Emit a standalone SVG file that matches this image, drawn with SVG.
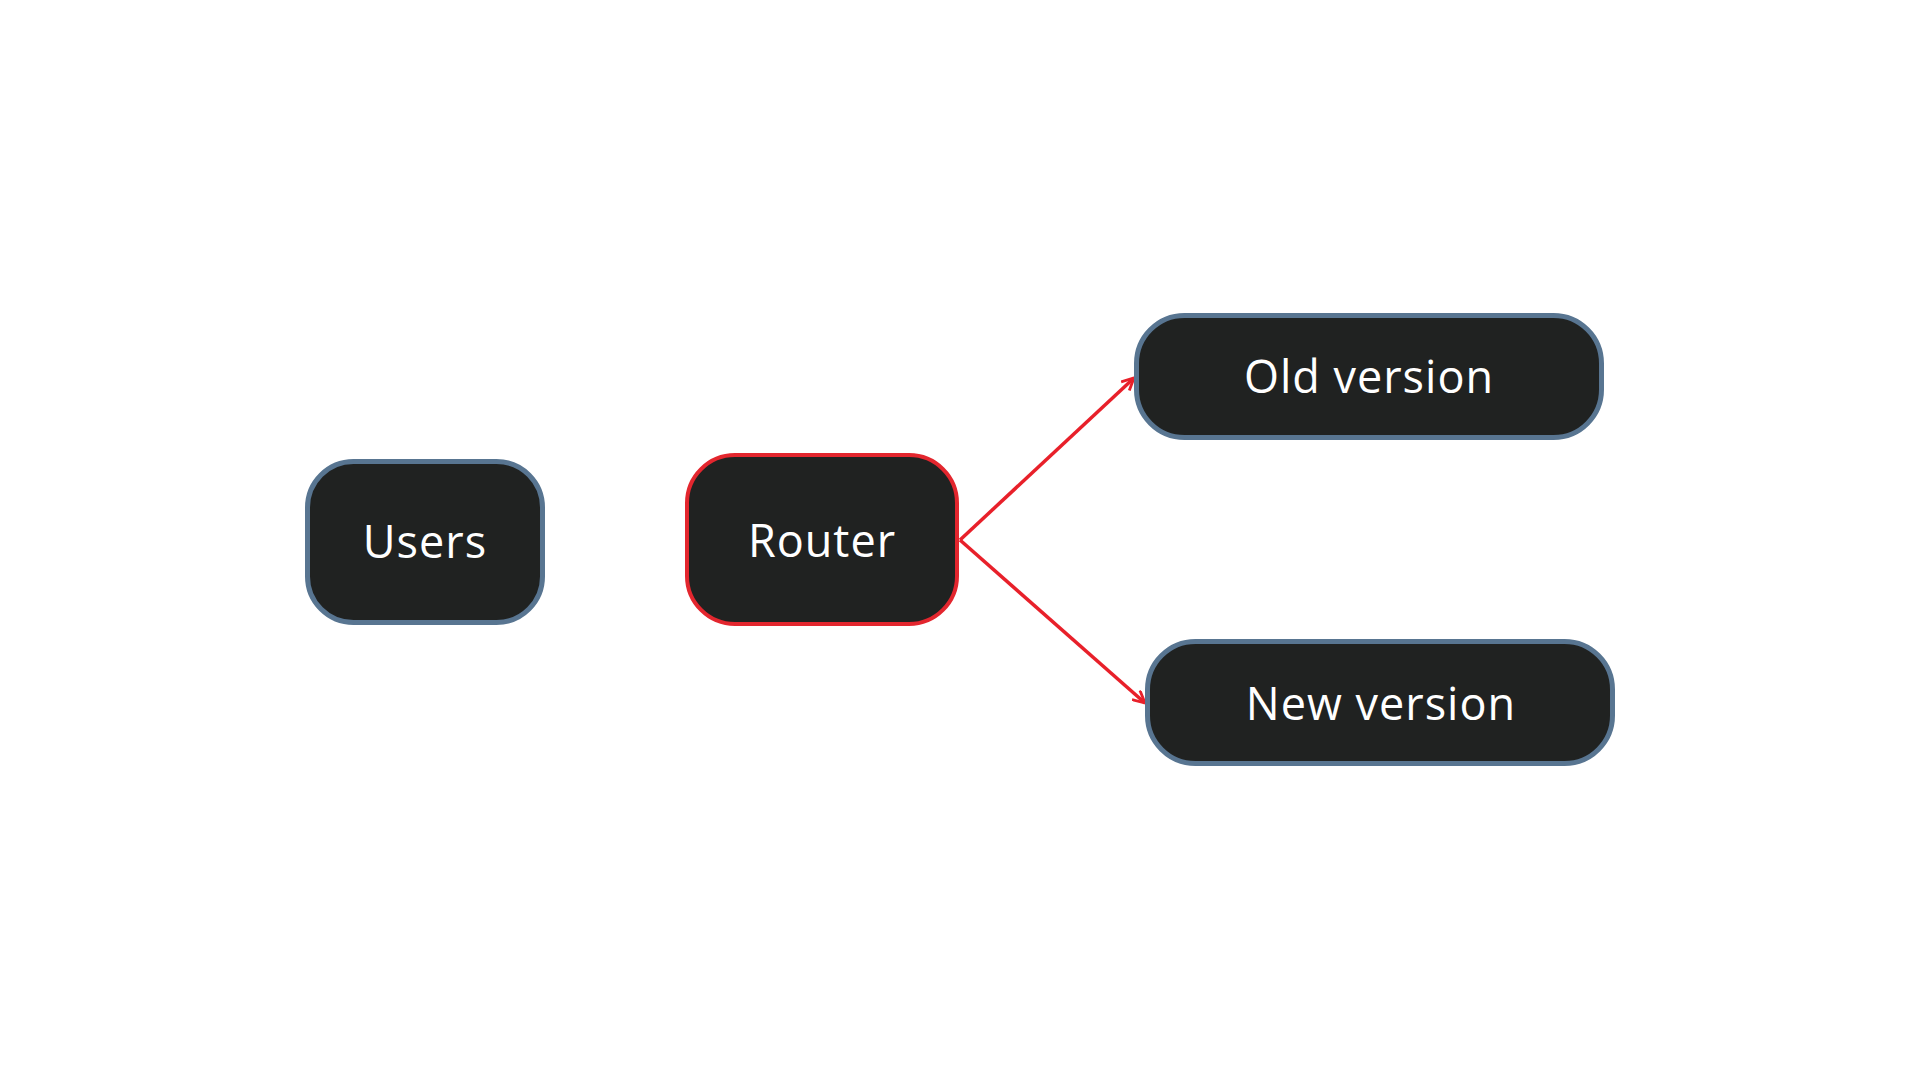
<svg xmlns="http://www.w3.org/2000/svg" width="1920" height="1080" viewBox="0 0 1920 1080">
<style>
.box{fill:#202221;stroke:#587591;stroke-width:5}
.red{stroke:#e3262e;stroke-width:4}
.lbl{font-family:"Open Sans","Liberation Sans",sans-serif;font-size:45px;fill:#ffffff;text-anchor:middle;letter-spacing:1px}
.conn{fill:none;stroke:#e8202a;stroke-width:3.5}
</style>
<defs>
<marker id="arr" viewBox="0 0 14 14" refX="13" refY="7" markerWidth="14" markerHeight="14" markerUnits="userSpaceOnUse" orient="auto">
<path d="M1,1 L13,7 L1,13" fill="none" stroke="#e8202a" stroke-width="2.8"/>
</marker>
</defs>
<rect width="1920" height="1080" fill="#ffffff"/>
<g id="connectors">
<path class="conn" d="M960,540 L1134,378" marker-end="url(#arr)"/>
<path class="conn" d="M960,540 L1145,703" marker-end="url(#arr)"/>
</g>
<g id="users">
<rect class="box" x="307.5" y="461.5" width="235" height="161" rx="46"/>
<text class="lbl" x="425" y="558">Users</text>
</g>
<g id="router">
<rect class="box red" x="687" y="455" width="270" height="169" rx="48"/>
<text class="lbl" x="822" y="557">Router</text>
</g>
<g id="old">
<rect class="box" x="1136.5" y="315.5" width="465" height="122" rx="48"/>
<text class="lbl" x="1369" y="393">Old version</text>
</g>
<g id="new">
<rect class="box" x="1147.5" y="641.5" width="465" height="122" rx="48"/>
<text class="lbl" x="1381" y="720">New version</text>
</g>
</svg>
